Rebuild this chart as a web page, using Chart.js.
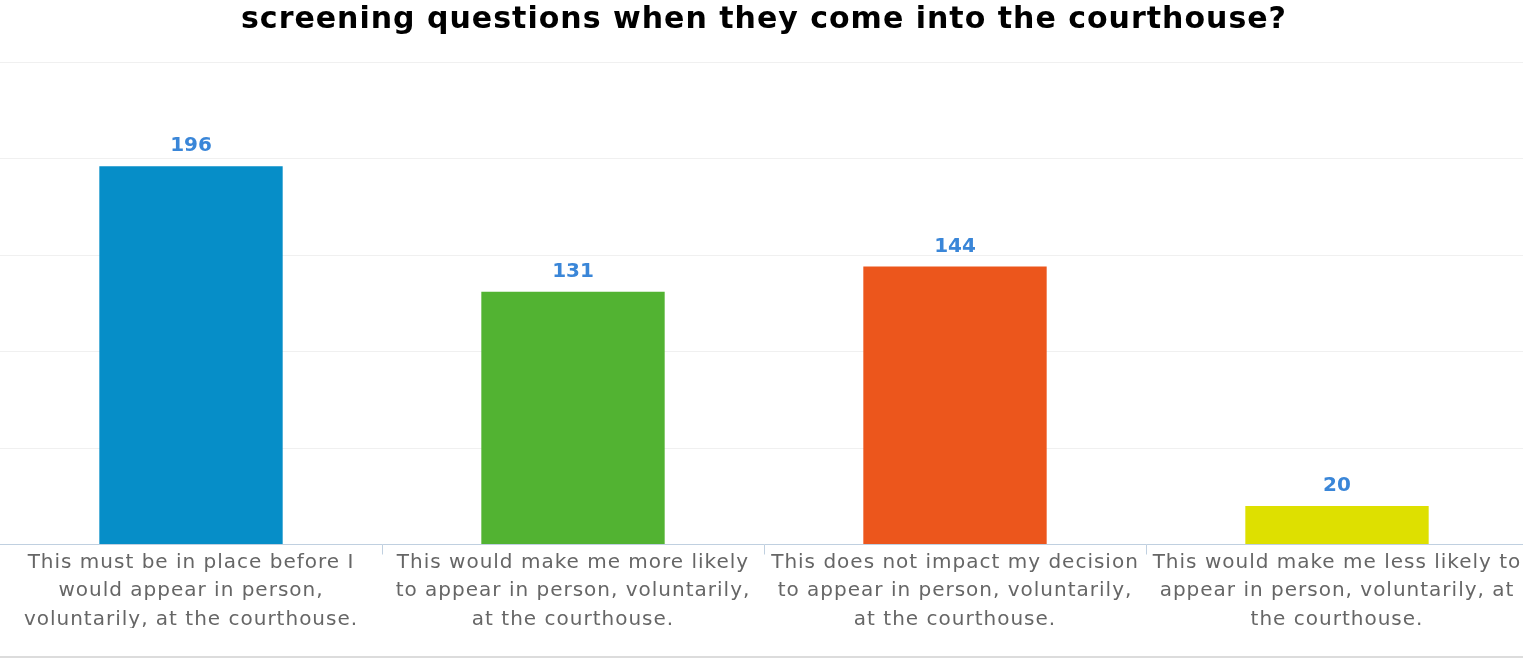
<!DOCTYPE html>
<html>
<head>
<meta charset="utf-8">
<script src="https://cdn.jsdelivr.net/npm/chart.js@4"></script>
<style>
  html, body { margin: 0; padding: 0; background: #fff; overflow: hidden; }
  #wrap { position: absolute; left: 0; top: 0; width: 1528px; height: 656px; border-bottom: 2px solid #dcdcdc; }
</style>
</head>
<body>
<div id="wrap"><canvas id="c"></canvas></div>
<script>
const titleText = "screening questions when they come into the courthouse?";
const categories = [
  ["This must be in place before I", "would appear in person,", "voluntarily, at the courthouse."],
  ["This would make me more likely", "to appear in person, voluntarily,", "at the courthouse."],
  ["This does not impact my decision", "to appear in person, voluntarily,", "at the courthouse."],
  ["This would make me less likely to", "appear in person, voluntarily, at", "the courthouse."]
];
const values = [196, 131, 144, 20];
const barColors = ["#068ec8", "#52b332", "#ec561c", "#dee000"];
const yMax = 250;
const yStep = 50;

const spacing = {
  id: 'spacing',
  beforeUpdate(chart) { chart.ctx.letterSpacing = '1px'; },
  beforeLayout(chart) { chart.ctx.letterSpacing = '1px'; },
  beforeDraw(chart) { chart.ctx.letterSpacing = '1px'; }
};

const valueLabels = {
  id: 'valueLabels',
  afterDatasetsDraw(chart) {
    const ctx = chart.ctx;
    const meta = chart.getDatasetMeta(0);
    ctx.save();
    ctx.letterSpacing = '0px';
    ctx.font = 'bold 20px "DejaVu Sans"';
    ctx.fillStyle = '#3a86d8';
    ctx.textAlign = 'center';
    ctx.textBaseline = 'alphabetic';
    meta.data.forEach((bar, i) => {
      ctx.fillText(String(values[i]), bar.x, bar.y - 15);
    });
    ctx.restore();
  }
};

new Chart(document.getElementById('c'), {
  type: 'bar',
  data: {
    labels: categories,
    datasets: [{
      data: values,
      backgroundColor: barColors,
      borderWidth: 0,
      barPercentage: 0.48,
      categoryPercentage: 1.0
    }]
  },
  options: {
    responsive: true,
    maintainAspectRatio: false,
    animation: false,
    layout: { padding: { left: 0, right: 0, top: 0, bottom: 28 } },
    plugins: {
      legend: { display: false },
      tooltip: { enabled: false },
      title: {
        display: true,
        text: titleText,
        color: '#000',
        font: { family: '"DejaVu Sans"', size: 30, weight: 'bold', lineHeight: 1.2 },
        padding: { top: 2, bottom: 24 }
      }
    },
    scales: {
      x: {
        offset: true,
        grid: {
          offset: true,
          drawOnChartArea: false,
          drawTicks: true,
          tickLength: 10,
          tickColor: (c) => (c.index === 0 ? 'rgba(0,0,0,0)' : '#c0d0e0')
        },
        border: { display: true, color: '#c0d0e0', width: 1 },
        ticks: {
          color: '#666',
          font: { family: '"DejaVu Sans"', size: 20, lineHeight: 1.425 },
          padding: -6,
          maxRotation: 0,
          autoSkip: false
        }
      },
      y: {
        min: 0,
        max: yMax,
        ticks: { display: false, stepSize: yStep },
        grid: { color: '#f0f0f0', drawTicks: false },
        border: { display: false }
      }
    }
  },
  plugins: [spacing, valueLabels]
});
</script>
</body>
</html>
